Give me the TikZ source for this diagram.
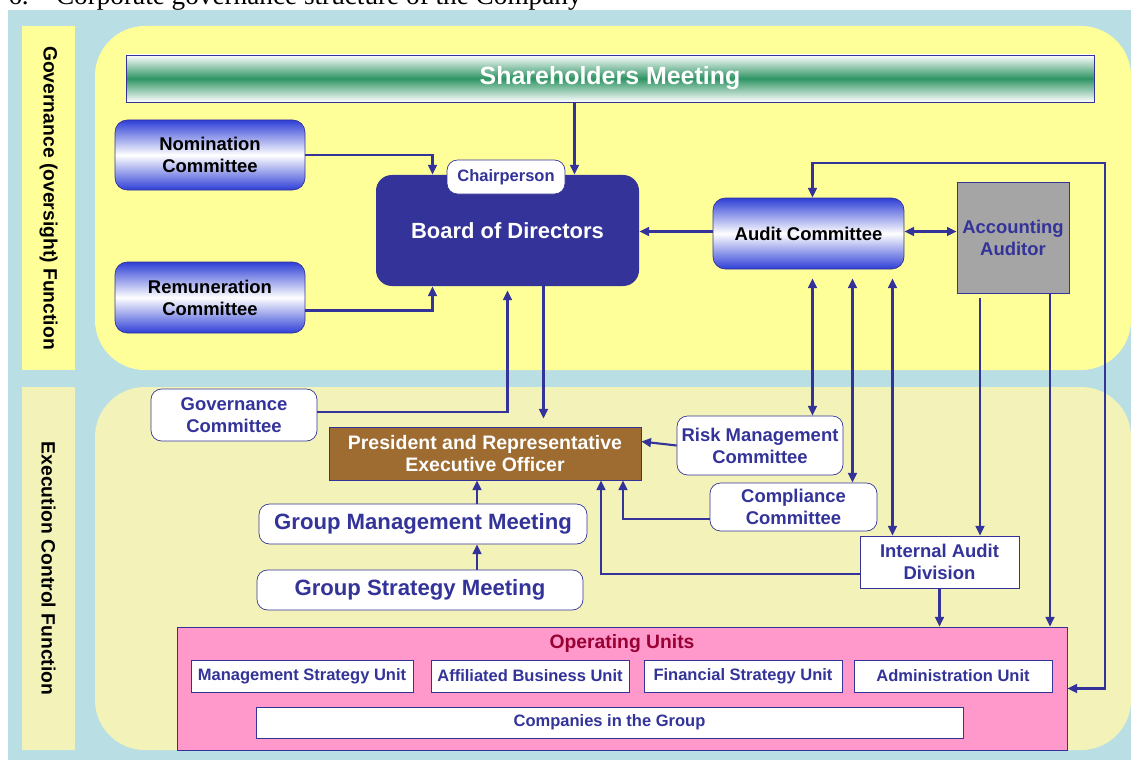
\documentclass[tikz,border=0pt]{standalone}
\usepackage{fontspec}
\setmainfont{Liberation Sans}
\newfontfamily\capfont{Liberation Serif}
\usepackage{tikz}
\usetikzlibrary{calc, arrows.meta, positioning}
\usepackage{xcolor}
\definecolor{navy}{HTML}{333399}
\definecolor{bgblue}{HTML}{B9DFE4}
\definecolor{yelA}{HTML}{FFFF99}
\definecolor{yelB}{HTML}{F3F3B9}
\definecolor{brownP}{HTML}{9E6B30}
\definecolor{pinkU}{HTML}{FF99CC}
\definecolor{crimson}{HTML}{990033}
\definecolor{grayA}{HTML}{A5A5A5}
\definecolor{greenS}{HTML}{2F9464}
\definecolor{blueG}{HTML}{2E3FD6}
\tikzset{
    box/.style={inner sep=0pt, align=center, text=navy,
        font=\fontsize{10.5}{12.5}\selectfont\bfseries},
    gbox/.style={box, draw=navy, rounded corners=7pt, text=black,
        top color=blueG, bottom color=blueG, middle color=white},
    wbox/.style={box, draw=navy, fill=white, rounded corners=6pt},
    sbox/.style={box, draw=navy, fill=white},
    ubox/.style={sbox, font=\fontsize{9.4}{11}\selectfont\bfseries},
    mbox/.style={wbox, font=\fontsize{12.6}{15}\selectfont\bfseries},
    side/.style={inner sep=0pt, rotate=-90, minimum height=53*0.02cm,
        font=\fontsize{11}{13}\selectfont\bfseries},
    link/.style={draw=navy, line width=1.2pt}
}
\newcommand{\drawB}[7][wbox]{
    \node[#1, minimum width=#5*0.02cm, minimum height=#6*0.02cm] (#2) at (#3,#4) {#7};
}

\begin{document}
\begin{tikzpicture}[x=0.02cm, y=-0.02cm, >={Triangle[length=5.5pt,width=5pt]}]
        \useasboundingbox (0,0) rectangle (1131,760);
        \node[anchor=base west, inner sep=0pt, font=\capfont\fontsize{15.5}{18}\selectfont] (cap) at (8,5) {6.\hspace{1em}Corporate governance structure of the Company};
        % Panels
        \fill[bgblue] (8,10) rectangle (1131,760);
        \fill[yelA, rounded corners=1cm] (95,26) rectangle (1131,370);
        \fill[yelB, rounded corners=1cm] (95,387) rectangle (1131,750);
        \node[side, fill=yelA, minimum width=344*0.02cm] (govfn) at (48.5,198) {Governance (oversight) Function};
        \node[side, fill=yelB, minimum width=363*0.02cm] (exefn) at (48.5,568.5) {Execution Control Function};
        % Governance boxes
        \drawB[box, draw=navy, top color=white, bottom color=white, middle color=greenS, text=white, font=\fontsize{14.2}{17}\selectfont\bfseries]{share}{610}{78.5}{968}{47}{\raisebox{-2pt}{Shareholders Meeting}}
        \drawB[gbox]{nomi}{210}{155}{190}{70}{Nomination\\Committee}
        \drawB[gbox]{remu}{210}{297.5}{190}{71}{Remuneration\\Committee}
        \drawB[box, fill=navy, rounded corners=9pt, text=white, font=\fontsize{12.5}{15}\selectfont\bfseries]{board}{507.5}{230.5}{263}{111}{Board of Directors}
        \drawB[wbox, font=\fontsize{9.4}{11}\selectfont\bfseries]{chair}{506}{177}{118}{34}{Chairperson}
        \drawB[gbox]{audit}{808.5}{233.5}{191}{71}{Audit Committee}
        \drawB[sbox, fill=grayA]{acct}{1013}{237.5}{112}{111}{Accounting\\Auditor}
        % Execution boxes
        \drawB{gov}{234}{415}{166}{52}{Governance\\Committee}
        \drawB[sbox, fill=brownP, text=white, font=\fontsize{11.1}{13}\selectfont\bfseries]{pres}{485}{453.5}{312}{53}{President and Representative\\Executive Officer}
        \drawB{risk}{760}{445.5}{166}{59}{Risk Management\\Committee}
        \drawB{comp}{793.5}{507}{167}{48}{Compliance\\Committee}
        \drawB[mbox]{gmm}{423}{524}{328}{40}{Group Management Meeting}
        \drawB[mbox]{gsm}{420}{590}{326}{40}{Group Strategy Meeting}
        \drawB[sbox]{iad}{939.5}{562}{159}{52}{Internal Audit\\Division}
        % Operating units
        \drawB[sbox, fill=pinkU]{ops}{622}{688.5}{890}{123}{}
        \node[box, text=crimson, font=\fontsize{11}{13}\selectfont\bfseries] (optitle) at (622,644) {Operating Units};
        \drawB[ubox]{mgt}{302}{676}{222}{32}{Management Strategy Unit}
        \drawB[ubox]{aff}{530}{676}{198}{32}{Affiliated Business Unit}
        \drawB[ubox]{fin}{743}{676}{198}{32}{Financial Strategy Unit}
        \drawB[ubox]{adm}{953}{676}{198}{32}{Administration Unit}
        \drawB[ubox]{grp}{609.5}{722.5}{707}{31}{Companies in the Group}
        % Links to the board
        \coordinate (bIn) at ([shift={(67,0)}]board.north);
        \draw[link,->] (share.south -| bIn) -- (bIn);
        \draw[link,->] (nomi.east) -| ([shift={(-75,0)}]board.north);
        \draw[link,->] ([shift={(0,13)}]remu.east) -| ([shift={(-75,0)}]board.south);
        \draw[link,->] ([shift={(0,-2)}]audit.west) -- ([shift={(0,-2)}]audit.west -| board.east);
        \draw[link,<->] ([shift={(0,-2)}]audit.east) -- ([shift={(0,-2)}]audit.east -| acct.west);
        \coordinate (rt) at (1105,163);
        \draw[link,<->] ([shift={(4,0)}]audit.north) |- (rt) |- (ops.east);
        \draw[link,->] ([shift={(0,-3)}]gov.east) -| ([shift={(0,4)}]board.south);
        \coordinate (bOut) at ([shift={(36,0)}]board.south);
        \draw[link,->] (bOut) -- ([shift={(0,-8)}]bOut |- pres.north);
        % Audit lines
        \coordinate (a1) at ([shift={(4,9)}]audit.south);
        \coordinate (a2) at ([shift={(44,9)}]audit.south);
        \coordinate (a3) at ([shift={(84,9)}]audit.south);
        \draw[link,<->] (a1) -- (a1 |- risk.north);
        \draw[link,<->] (a2) -- (a2 |- comp.north);
        \draw[link,<->] (a3) -- (a3 |- iad.north);
        \coordinate (c1) at ([shift={(-33,5)}]acct.south);
        \coordinate (c2) at ([shift={(37,0)}]acct.south);
        \draw[link,->] (c1) -- (c1 |- iad.north);
        \draw[link,->] (c2) -- (c2 |- ops.north);
        \draw[link,->] (iad.south) -- (iad.south |- ops.north);
        % Reports to the President
        \draw[link,->] (risk.west) -- ([shift={(0,-12)}]pres.east);
        \draw[link,->] ([shift={(0,12)}]comp.west) -| ([shift={(138,0)}]pres.south);
        \draw[link,->] ([shift={(0,12)}]iad.west) -| ([shift={(116,0)}]pres.south);
        \coordinate (g1) at ([shift={(54,0)}]gmm.north);
        \draw[link,->] (g1) -- (g1 |- pres.south);
        \draw[link,->] (g1 |- gsm.north) -- (g1 |- gmm.south);
    \end{tikzpicture}
\end{document}
